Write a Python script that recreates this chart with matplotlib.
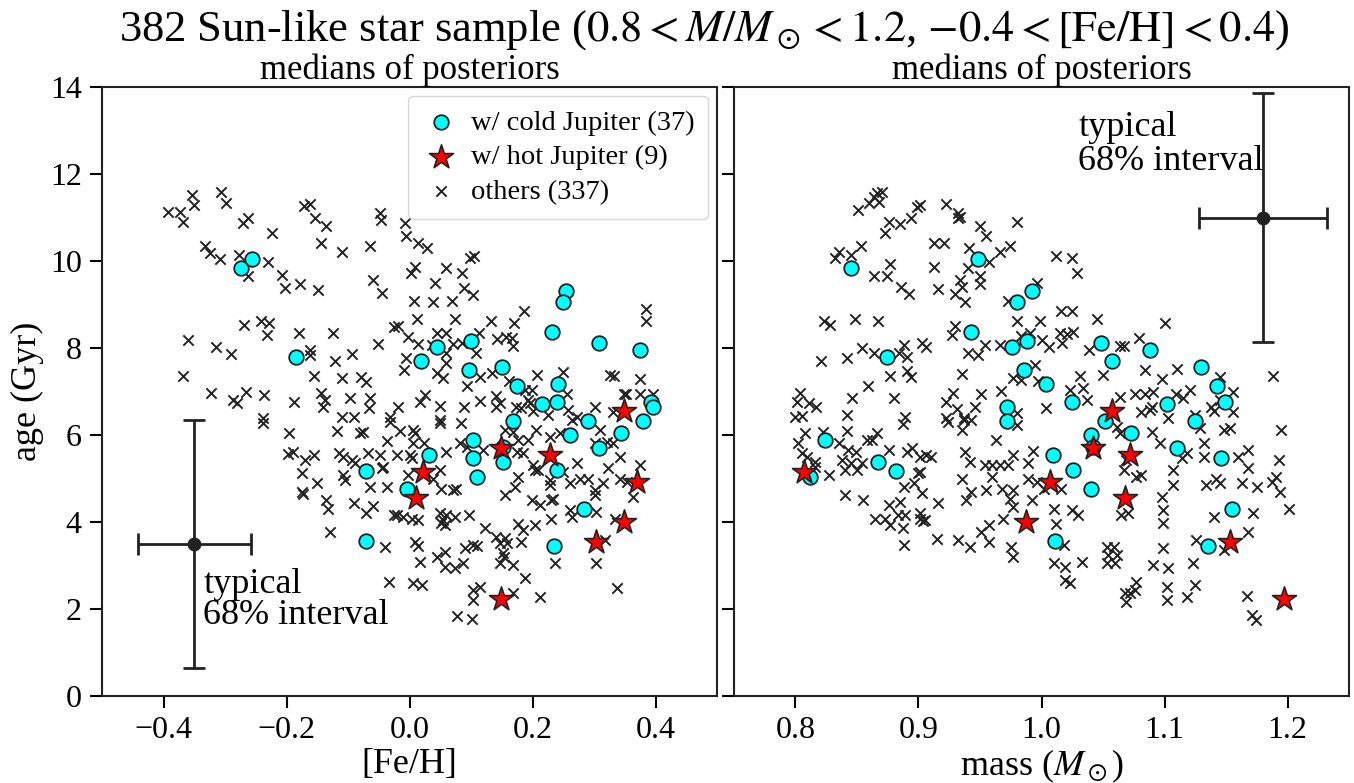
import matplotlib.pyplot as plt
import numpy as np

# --- data ---
# stars with a cold Jupiter (37): [Fe/H], mass, age
feh_cold = [-0.274, -0.256, -0.185, -0.071, -0.071, -0.004, 0.032, 0.045, 0.019, 0.100,
            0.097, 0.150, 0.254, 0.250, 0.232, 0.308, 0.375, 0.175, 0.241, 0.215,
            0.240, 0.393, 0.396, 0.168, 0.290, 0.380, 0.261, 0.344, 0.308, 0.152,
            0.240, 0.284, 0.235, 0.103, 0.103, 0.110, 0.152]
mass_cold = [0.845, 0.948, 0.874, 1.011, 0.882, 1.040, 1.009, 0.976, 1.057, 0.988,
             0.986, 1.130, 0.992, 0.980, 0.943, 1.048, 1.088, 1.143, 1.004, 1.102,
             1.149, 1.025, 0.972, 0.972, 1.052, 1.125, 1.040, 1.073, 1.110, 0.867,
             1.026, 1.155, 1.135, 0.824, 1.146, 0.812, 1.042]
age_cold = [9.84, 10.05, 7.79, 3.56, 5.17, 4.76, 5.54, 8.02, 7.70, 8.16,
            7.49, 7.56, 9.31, 9.06, 8.37, 8.11, 7.95, 7.13, 7.17, 6.71,
            6.76, 6.76, 6.64, 6.32, 6.32, 6.32, 6.00, 6.05, 5.70, 5.38,
            5.20, 4.30, 3.45, 5.89, 5.47, 5.03, 5.72]

# stars with a hot Jupiter (9)
feh_hot = [0.022, 0.349, 0.149, 0.228, 0.370, 0.011, 0.349, 0.303, 0.149]
mass_hot = [0.807, 1.057, 1.042, 1.072, 1.007, 1.068, 0.987, 1.153, 1.197]
age_hot = [5.15, 6.55, 5.70, 5.54, 4.93, 4.56, 4.00, 3.54, 2.23]

# other stars, left panel ([Fe/H], age)
feh_other = [
    -0.393, -0.373, -0.369, -0.354, -0.350, -0.307, -0.299, -0.271, -0.262, -0.224,
    -0.172, -0.333, -0.324, -0.308, -0.277, -0.262, -0.230, -0.208, -0.202, -0.178,
    -0.269, -0.241, -0.228, -0.231, -0.180, -0.360, -0.315, -0.290, -0.368, -0.323,
    -0.287, -0.280, -0.266, -0.236, -0.187, -0.239,
    -0.162, -0.154, -0.135, -0.144, -0.109, -0.064, -0.048, -0.047, -0.007, -0.006,
    0.014, 0.028, -0.148, -0.059, -0.044, 0.009, 0.002, 0.059, 0.085, 0.098,
    0.105, 0.041, 0.089, 0.103, 0.007, 0.039, 0.069, -0.124, -0.162, -0.161,
    -0.121, -0.094, -0.051, -0.026, -0.018, 0.012, 0.074, 0.133, -0.002, 0.014,
    0.045, 0.060, 0.036, 0.071, 0.085, 0.113, 0.108, 0.143, -0.006, -0.009,
    0.060, 0.059, 0.044, 0.055, 0.115, 0.093, 0.134, -0.156, -0.110, -0.079,
    -0.071, -0.144, -0.137, -0.140, -0.096, -0.064, -0.066, -0.110, -0.091, -0.018,
    -0.032, 0.025, 0.017, 0.050, 0.089, 0.115, 0.141, 0.141,
    0.186, 0.170, 0.157, 0.166, 0.169, 0.385, 0.385, 0.208, 0.250, 0.326,
    0.333, 0.375, 0.161, 0.188, 0.199, 0.193, 0.256, 0.348, 0.352, 0.375,
    0.396, 0.302, 0.147, 0.181, 0.201, 0.258, 0.272, 0.331,
    -0.239, -0.196, -0.197, -0.189, -0.170, -0.175, -0.174, -0.173,
    -0.118, -0.080, -0.075, -0.032, -0.015, 0.006, 0.009, -0.036, 0.050, 0.049,
    0.084, 0.006, 0.024, 0.082, 0.093, 0.059, 0.120, -0.156, -0.114, -0.108,
    -0.094, -0.089, -0.067, -0.048, -0.043, -0.021, 0.001, 0.004, -0.151, -0.108,
    -0.105, -0.065, -0.045, -0.037, -0.002, 0.039, 0.050, 0.052, 0.071, 0.076,
    -0.135, -0.133, -0.091, -0.070, -0.059, -0.026, -0.021, -0.010, 0.004, 0.014,
    0.050, 0.055, 0.060, 0.074, 0.058, 0.052, 0.096, 0.123, 0.141, 0.147,
    -0.129, -0.040, 0.009, 0.014, 0.017, 0.044, 0.058, 0.058, 0.074, 0.087,
    0.090, 0.104, 0.109, 0.147, 0.152, -0.033, 0.006, 0.020, 0.104, 0.115,
    0.104, 0.077, 0.101,
    0.173, 0.196, 0.226, 0.264, 0.155, 0.169, 0.177, 0.193, 0.206, 0.228,
    0.245, 0.310, 0.302, 0.321, 0.331, 0.174, 0.185, 0.201, 0.204, 0.209,
    0.272, 0.250, 0.342, 0.323, 0.374, 0.177, 0.172, 0.155, 0.228, 0.228,
    0.261, 0.277, 0.290, 0.315, 0.302, 0.302, 0.342, 0.353, 0.363, 0.199,
    0.212, 0.233, 0.230, 0.261, 0.264, 0.304, 0.230, 0.204, 0.177, 0.185,
    0.182, 0.155, 0.158, 0.153, 0.169, 0.334, 0.237, 0.304, 0.318, 0.187,
    0.169, 0.213, 0.338]
age_other_l = [
    11.13, 11.13, 10.90, 11.52, 11.29, 11.59, 11.34, 10.87, 11.00, 10.64,
    11.26, 10.34, 10.18, 10.04, 10.14, 9.66, 9.98, 9.68, 9.39, 9.47,
    8.53, 8.63, 8.58, 8.30, 8.35, 8.18, 8.02, 7.86, 7.36, 6.96,
    6.80, 6.73, 6.98, 6.92, 6.77, 6.38,
    11.31, 10.98, 10.80, 10.42, 10.21, 10.34, 11.11, 10.94, 10.88, 10.57,
    10.42, 10.29, 9.33, 9.56, 9.26, 9.87, 9.72, 9.85, 9.73, 10.08,
    10.11, 9.49, 9.39, 9.22, 9.08, 9.06, 9.08, 8.35, 7.95, 7.84,
    7.70, 7.86, 8.09, 8.49, 8.51, 8.67, 8.67, 8.63, 8.26, 8.09,
    8.34, 8.34, 8.08, 8.09, 8.11, 8.34, 7.89, 8.20, 7.76, 7.49,
    7.88, 7.65, 7.43, 7.30, 7.34, 7.13, 7.43, 7.36, 7.30, 7.34,
    7.21, 6.97, 6.80, 6.64, 6.86, 6.86, 6.61, 6.42, 6.42, 6.64,
    6.42, 6.92, 6.77, 6.67, 6.64, 6.79, 6.90, 6.64,
    8.86, 8.58, 8.26, 8.22, 8.05, 8.89, 8.63, 7.38, 7.44, 7.38,
    7.36, 7.28, 7.25, 7.03, 7.03, 6.80, 6.94, 6.94, 6.94, 6.94,
    6.94, 6.64, 6.74, 6.61, 6.56, 6.57, 6.42, 6.54,
    6.28, 6.04, 5.56, 5.62, 5.43, 5.13, 4.68, 4.64,
    6.10, 6.04, 6.08, 6.31, 6.10, 6.11, 6.04, 5.87, 6.34, 6.27,
    6.27, 5.81, 5.82, 5.81, 5.73, 5.62, 5.66, 5.54, 5.58, 5.50,
    5.43, 5.35, 5.59, 5.54, 5.27, 5.54, 5.54, 5.46, 4.89, 5.08,
    4.97, 4.80, 5.23, 4.81, 5.08, 5.00, 5.20, 4.77, 4.74, 4.77,
    4.51, 4.31, 4.43, 4.20, 4.37, 4.16, 4.16, 4.12, 4.08, 4.05,
    4.20, 4.05, 4.16, 4.12, 3.93, 3.98, 4.16, 3.86, 3.66, 3.51,
    3.78, 3.43, 3.55, 3.45, 3.09, 3.20, 3.32, 2.97, 2.94, 3.05,
    3.40, 3.47, 3.45, 3.05, 3.28, 2.63, 2.59, 2.55, 2.44, 2.51,
    2.21, 1.84, 1.76,
    6.65, 6.73, 6.46, 6.34, 6.11, 6.08, 5.89, 5.89, 6.11, 5.96,
    6.04, 6.11, 5.81, 5.85, 5.81, 5.62, 5.58, 5.31, 5.20, 5.20,
    5.35, 5.16, 5.50, 5.23, 5.31, 5.04, 4.81, 4.62, 4.97, 4.85,
    4.89, 5.00, 5.00, 4.89, 4.74, 4.62, 5.00, 4.93, 4.58, 4.51,
    4.39, 4.54, 4.51, 4.28, 4.12, 4.24, 4.08, 3.93, 3.95, 3.82,
    3.55, 3.63, 3.51, 3.20, 3.01, 4.08, 3.05, 3.05, 3.59, 2.71,
    2.36, 2.27, 2.48]

# other stars, right panel (mass, age)
mass_other = [
    0.866, 0.870, 0.864, 0.868, 0.860, 0.851, 0.899, 0.876, 0.885, 0.894,
    0.873, 0.853, 0.835, 0.832, 0.845, 0.877, 0.864, 0.874, 0.886, 0.892,
    0.823, 0.828, 0.848, 0.867, 0.821, 0.842, 0.854, 0.864, 0.888, 0.884,
    0.891, 0.903, 0.906, 0.877, 0.891, 0.894, 0.859, 0.846, 0.880, 0.804,
    0.801, 0.811, 0.817, 0.800, 0.805, 0.842, 0.889,
    0.901, 0.922, 0.932, 0.932, 0.934, 0.950, 0.955, 0.980, 0.913, 0.921,
    0.941, 0.966, 0.974, 0.913, 0.940, 0.957, 0.950, 0.950, 0.934, 0.935,
    0.930, 0.938, 0.916, 1.012, 1.025, 1.029, 0.996, 0.973, 1.016, 1.025,
    1.045, 0.980, 0.999, 0.930, 0.927, 0.954, 0.966, 0.940, 0.948, 0.983,
    0.991, 1.000, 1.006, 1.015, 1.021, 1.026, 1.017, 1.039, 1.064, 0.935,
    0.977, 0.983, 0.995, 0.997, 1.031, 1.034, 1.023, 1.037, 1.050, 0.928,
    0.922, 0.931, 0.946, 0.951, 0.967, 0.980, 1.004, 1.064, 0.922, 0.937,
    1.100, 1.079, 1.067, 1.084, 1.098, 1.110, 1.188, 1.145, 1.156, 1.076,
    1.084, 1.091, 1.109, 1.115, 1.121, 1.081, 1.090, 1.125, 1.138, 1.140,
    1.156, 1.145, 1.103,
    0.887, 0.808, 0.802, 0.822, 0.835, 0.842, 0.843, 0.849, 0.858, 0.862,
    0.866, 0.876, 0.891, 0.895, 0.901, 0.906, 0.910, 0.805, 0.809, 0.816,
    0.816, 0.827, 0.838, 0.840, 0.845, 0.850, 0.854, 0.840, 0.855, 0.900,
    0.888, 0.896, 0.903, 0.876, 0.885, 0.865, 0.873, 0.877, 0.883, 0.889,
    0.887, 0.888, 0.901, 0.904,
    0.924, 0.937, 0.943, 0.935, 0.963, 0.980, 0.901, 0.935, 0.938, 0.942,
    0.939, 0.943, 0.916, 0.901, 0.905, 0.954, 0.960, 0.966, 0.973, 0.960,
    0.977, 0.989, 0.993, 0.955, 0.968, 0.977, 0.974, 0.977, 0.989, 0.996,
    1.002, 0.992, 0.969, 0.957, 0.951, 0.957, 0.942, 0.932, 0.915, 0.975,
    0.977, 1.010, 1.025, 1.030, 1.012, 1.016, 1.018, 1.010, 1.019, 1.033,
    1.019, 1.023, 1.053, 1.059, 1.054, 1.061, 1.060, 1.053, 1.068, 1.069,
    1.061, 1.064, 1.069, 1.067, 1.065, 1.070,
    1.088, 1.129, 1.132, 1.148, 1.153, 1.090, 1.096, 1.118, 1.114, 1.132,
    1.107, 1.107, 1.098, 1.099, 1.099, 1.077, 1.081, 1.134, 1.142, 1.145,
    1.160, 1.168, 1.168, 1.163, 1.175, 1.187, 1.191, 1.194, 1.193, 1.195,
    1.201, 1.172, 1.168, 1.140, 1.126, 1.148, 1.099, 1.091, 1.103, 1.123,
    1.077, 1.076, 1.072, 1.102, 1.102, 1.118, 1.125, 1.167, 1.171, 1.174]
age_other_r = [
    11.57, 11.59, 11.48, 11.36, 11.33, 11.17, 11.25, 10.90, 10.85, 10.98,
    10.64, 10.34, 10.21, 10.06, 10.14, 9.93, 9.66, 9.66, 9.40, 9.24,
    8.61, 8.53, 8.67, 8.61, 7.71, 7.76, 8.01, 7.89, 8.07, 7.88,
    7.80, 8.12, 8.03, 7.36, 7.46, 7.33, 7.13, 6.84, 6.84, 6.97,
    6.77, 6.74, 6.65, 6.42, 6.44, 6.46, 6.42,
    11.29, 11.31, 11.11, 10.98, 11.02, 10.80, 10.57, 10.90, 10.42, 10.42,
    10.29, 10.21, 10.34, 9.87, 9.85, 9.98, 9.66, 9.47, 9.56, 9.40,
    9.24, 9.06, 9.35, 10.11, 10.06, 9.73, 9.49, 9.09, 8.86, 8.86,
    8.66, 8.63, 8.63, 8.51, 8.30, 8.07, 8.07, 7.88, 7.84, 8.28,
    8.34, 8.18, 8.02, 8.35, 8.32, 8.37, 8.11, 7.95, 8.05, 7.40,
    7.30, 7.26, 7.61, 7.23, 7.36, 7.07, 7.03, 6.80, 7.38, 6.97,
    6.77, 6.59, 6.64, 6.94, 7.02, 6.50, 6.61, 6.88, 6.38, 6.38,
    8.58, 8.22, 8.05, 7.49, 7.28, 7.51, 7.36, 7.34, 7.00, 6.94,
    6.94, 7.00, 6.94, 6.84, 7.03, 6.54, 6.64, 6.46, 6.64, 6.56,
    6.54, 6.80, 6.38,
    6.25, 6.04, 5.81, 6.08, 5.81, 6.10, 5.66, 5.62, 5.89, 5.89,
    6.04, 5.66, 5.62, 5.70, 5.50, 5.54, 5.50, 5.58, 5.50, 5.39,
    5.27, 5.08, 5.43, 5.20, 5.35, 5.20, 5.35, 4.62, 4.51, 5.12,
    4.80, 4.89, 4.66, 4.39, 4.47, 4.08, 4.08, 3.93, 4.16, 4.16,
    3.86, 3.47, 4.08, 4.03,
    6.31, 6.34, 6.34, 6.11, 5.89, 6.23, 5.16, 4.98, 5.62, 5.39,
    4.51, 4.70, 4.43, 4.20, 4.05, 5.31, 5.31, 5.31, 5.31, 5.04,
    5.54, 5.35, 5.64, 4.74, 4.77, 4.74, 4.54, 4.35, 5.00, 4.93,
    4.77, 4.51, 4.08, 3.93, 3.78, 3.55, 3.43, 3.59, 3.60, 3.43,
    3.20, 4.31, 4.28, 4.16, 3.95, 4.77, 3.47, 3.06, 2.97, 3.09,
    2.67, 2.59, 3.43, 3.43, 3.24, 3.24, 3.05, 3.05, 2.36, 2.17,
    6.19, 6.04, 5.43, 5.20, 4.16, 4.20,
    6.57, 6.15, 5.81, 6.11, 6.15, 6.08, 5.82, 5.58, 5.46, 5.50,
    5.20, 4.85, 4.58, 4.28, 3.97, 5.04, 5.08, 4.85, 5.00, 4.89,
    5.50, 5.66, 5.23, 4.89, 4.81, 4.93, 5.04, 4.70, 5.43, 6.11,
    4.29, 4.20, 3.78, 4.11, 3.59, 3.36, 3.40, 3.01, 2.94, 3.05,
    2.63, 2.44, 2.36, 2.51, 2.21, 2.28, 2.55, 2.30, 1.86, 1.75]

# "typical 68% interval" error bars
err_left = dict(x=-0.35, y=3.5, xerr=0.092, yerr=2.85)
err_right = dict(x=1.18, y=11.0, xerr=0.052, yerr=2.86)

legend_labels = ['w/ cold Jupiter (37)', 'w/ hot Jupiter (9)', 'others (337)']

plt.rcParams['font.family'] = ['Liberation Serif', 'DejaVu Serif']
plt.rcParams['mathtext.fontset'] = 'stix'
plt.rcParams['axes.linewidth'] = 1.5
plt.rcParams['axes.edgecolor'] = '#222222'

fig = plt.figure(figsize=(13.54, 7.83), dpi=100)
W, H = 1354, 783
ax1 = fig.add_axes([102 / W, 1 - 696 / H, 615 / W, 609 / H])
ax2 = fig.add_axes([734 / W, 1 - 696 / H, 615 / W, 609 / H], sharey=ax1)


def draw_panel(ax, xo, yo, xc, yc, xh, yh):
    h_o = ax.scatter(xo, yo, marker='x', s=55, color='#222222', lw=1.4, zorder=2)
    h_c = ax.scatter(xc, yc, marker='o', s=110, color='cyan', edgecolor='#222222',
                     lw=1.3, zorder=3)
    h_h = ax.scatter(xh, yh, marker='*', s=330, color='red', edgecolor='#222222',
                     lw=1.2, zorder=4)
    return h_c, h_h, h_o


handles = draw_panel(ax1, feh_other, age_other_l, feh_cold, age_cold, feh_hot, age_hot)
draw_panel(ax2, mass_other, age_other_r, mass_cold, age_cold, mass_hot, age_hot)

for ax, eb in [(ax1, err_left), (ax2, err_right)]:
    ax.errorbar(eb['x'], eb['y'], xerr=eb['xerr'], yerr=eb['yerr'], fmt='o',
                color='#222222', ms=9, elinewidth=2, capsize=8, capthick=2, zorder=5)
    ax.set_title('medians of posteriors', fontsize=25, pad=3)
    ax.tick_params(direction='out', length=8.5, width=1.5, labelsize=23, pad=6)

ax1.text(-0.335, 2.95, 'typical\n68% interval', fontsize=26, ha='left', va='top',
         linespacing=0.95)
ax2.text(1.03, 13.45, 'typical\n68% interval', fontsize=26, ha='left', va='top',
         linespacing=1.05)

ax1.set_xlim(-0.5, 0.5)
ax2.set_xlim(0.75, 1.25)
ax1.set_ylim(0, 14)
ax1.set_xticks([-0.4, -0.2, 0.0, 0.2, 0.4])
ax2.set_xticks([0.8, 0.9, 1.0, 1.1, 1.2])
ax1.set_yticks(np.arange(0, 15, 2))
plt.setp(ax2.get_yticklabels(), visible=False)

ax1.set_xlabel('[Fe/H]', fontsize=26, labelpad=2)
ax2.set_xlabel(r'mass ($M_\odot$)', fontsize=26, labelpad=2)
ax1.set_ylabel('age (Gyr)', fontsize=26, labelpad=4)

leg = ax1.legend(handles, legend_labels, loc='upper right', fontsize=20.5,
                 frameon=True, fancybox=True, borderpad=0.5, labelspacing=0.3,
                 handlelength=1.3, handletextpad=0.4, borderaxespad=0.3)
leg.get_frame().set_edgecolor('#cccccc')

fig.text(0.52, 0.962,
         r'382 Sun-like star sample ($0.8 < M/M_\odot < 1.2$, $-0.4 < [\mathrm{Fe/H}] < 0.4$)',
         fontsize=32, ha='center', va='center')

fig.savefig('out.png', dpi=100)
